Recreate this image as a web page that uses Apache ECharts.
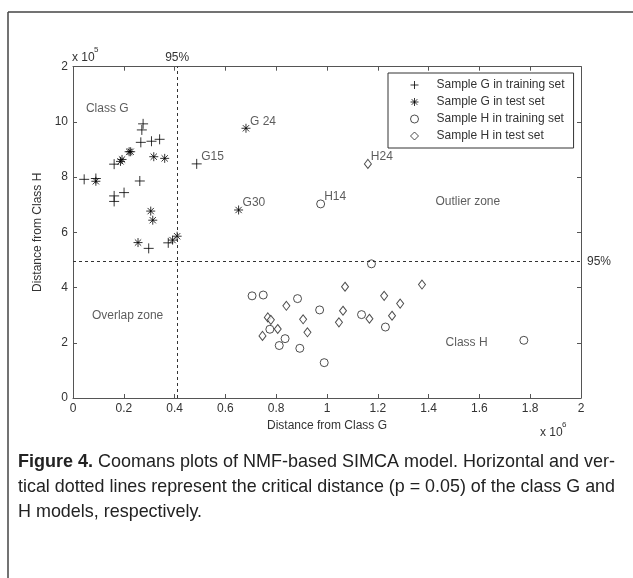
<!DOCTYPE html>
<html>
<head>
<meta charset="utf-8">
<script src="https://cdn.jsdelivr.net/npm/echarts@6/dist/echarts.min.js"></script>
<style>
html,body{margin:0;padding:0;background:#fff;}
#chart{width:633px;height:578px;}
</style>
</head>
<body>
<div id="chart"></div>
<script>
// Values: x in units of 1e6 (Distance from Class G), y in units of 1e5 (Distance from Class H)
// third entry: point label ('' = none)
var gTrain = [
  [0.044,7.92,''],[0.09,7.95,''],[0.162,8.47,''],[0.162,7.32,''],[0.162,7.12,''],
  [0.201,7.44,''],[0.263,7.86,''],[0.267,9.26,''],[0.276,9.93,''],[0.271,9.71,''],
  [0.309,9.30,''],[0.341,9.37,''],[0.298,5.42,''],[0.375,5.62,''],[0.487,8.48,'G15']
];
var gTest = [
  [0.09,7.85,''],[0.187,8.57,''],[0.193,8.64,''],[0.221,8.92,''],[0.227,8.92,''],
  [0.318,8.74,''],[0.361,8.68,''],[0.306,6.77,''],[0.314,6.44,''],[0.256,5.63,''],
  [0.392,5.72,''],[0.41,5.86,''],[0.681,9.77,'G 24'],[0.652,6.81,'G30']
];
var hTrain = [
  [0.705,3.70,''],[0.749,3.73,''],[0.884,3.60,''],[0.775,2.49,''],[0.835,2.15,''],
  [0.812,1.90,''],[0.893,1.80,''],[0.971,3.19,''],[0.989,1.28,''],[1.175,4.86,''],
  [1.136,3.02,''],[1.230,2.57,''],[1.775,2.09,''],[0.975,7.03,'H14']
];
var hTest = [
  [0.84,3.34,''],[0.767,2.92,''],[0.779,2.83,''],[0.806,2.50,''],[0.746,2.25,''],
  [0.906,2.85,''],[0.923,2.38,''],[1.071,4.03,''],[1.063,3.16,''],[1.047,2.74,''],
  [1.167,2.87,''],[1.225,3.70,''],[1.288,3.42,''],[1.256,2.98,''],[1.374,4.11,''],
  [1.161,8.48,'H24']
];
var seriesNames = ['Sample G in training set','Sample G in test set','Sample H in training set','Sample H in test set'];
var criticalG = 0.415;   // vertical 95% line (x)
var criticalH = 4.95;    // horizontal 95% line (y)
var zoneLabels = [
  ['Class G',0.051,10.47],['Overlap zone',0.0745,2.97],['Outlier zone',1.427,7.10],['Class H',1.467,1.99]
];
var xTicks = {min:0,max:2,interval:0.2};
var yTicks = {min:0,max:12,interval:2};
var captionBold = 'Figure 4.';
var captionLines = [
  ' Coomans plots of NMF-based SIMCA model. Horizontal and ver-',
  'tical dotted lines represent the critical distance (p = 0.05) of the class G and',
  'H models, respectively.'
];

var FONT = 'Liberation Sans, Arial, sans-serif';
var TXT = '#333';
var AX = '#555';
var FS = 12;
var plusPath = 'path://M0,-1L0,1M-1,0L1,0';
var starPath = 'path://M0,-1L0,1M-1,0L1,0M-0.7,-0.7L0.7,0.7M-0.7,0.7L0.7,-0.7';

// caption: measure and condense to the reference line width
var CAP_FS = 19, CAP_W = 597, CAP_FONT = '"Liberation Sans", Arial, sans-serif';
var mctx = document.createElement('canvas').getContext('2d');
function tw(s, bold){ mctx.font = (bold ? 'bold ' : '') + CAP_FS + 'px ' + CAP_FONT; return mctx.measureText(s).width; }
var s1 = CAP_W / (tw(captionBold, true) + tw(captionLines[0], false));
var s2 = CAP_W / tw(captionLines[1], false);
var s3 = (s1 + s2) / 2;

function ptLabel(){
  return {show:true, position:'right', distance:0, offset:[-1,-7],
    formatter:function(p){return p.value[2];}, fontFamily:FONT, fontSize:FS, color:TXT};
}
function txt(x, y, s, size){
  return {type:'text', x:x, y:y, style:{text:s, fontFamily:FONT, fontSize:size, fill:TXT}};
}

var chart = echarts.init(document.getElementById('chart'), null, {renderer:'canvas'});
var option = {
  backgroundColor:'#fff',
  animation:false,
  textStyle:{fontFamily:FONT},
  grid:{left:73, right:52, top:66.7, bottom:180, show:false},
  legend:{
    data:[
      {name:seriesNames[0], icon:plusPath, itemStyle:{color:'transparent', borderColor:'#000', borderWidth:1}},
      {name:seriesNames[1], icon:starPath, itemStyle:{color:'transparent', borderColor:'#000', borderWidth:1}},
      {name:seriesNames[2], icon:'circle', itemStyle:{color:'#fff', borderColor:'#222', borderWidth:1}},
      {name:seriesNames[3], icon:'diamond', itemStyle:{color:'#fff', borderColor:'#222', borderWidth:1}}
    ],
    orient:'vertical', left:388, top:73,
    padding:[5,9,5,22], itemWidth:8, itemHeight:8, itemGap:3,
    borderColor:'#333', borderWidth:1, backgroundColor:'#fff',
    textStyle:{fontFamily:FONT, fontSize:FS, color:TXT, lineHeight:14, padding:[0,0,0,13]},
    selectedMode:false
  },
  xAxis:[
    {type:'value', min:xTicks.min, max:xTicks.max, interval:xTicks.interval,
     name:'Distance from Class G', nameLocation:'middle', nameGap:19,
     nameTextStyle:{fontFamily:FONT, fontSize:FS, color:TXT},
     axisLine:{show:true, onZero:false, lineStyle:{color:AX, width:1}},
     axisTick:{show:true, inside:true, length:4, lineStyle:{color:AX}},
     axisLabel:{fontFamily:FONT, fontSize:FS, color:TXT, margin:5,
       formatter:function(v){return String(+v.toFixed(1));}},
     splitLine:{show:false}},
    {type:'value', position:'top', min:xTicks.min, max:xTicks.max, interval:xTicks.interval,
     axisLine:{show:true, onZero:false, lineStyle:{color:AX, width:1}},
     axisTick:{show:true, inside:true, length:4, lineStyle:{color:AX}},
     axisLabel:{show:false}, splitLine:{show:false}}
  ],
  yAxis:[
    {type:'value', min:yTicks.min, max:yTicks.max, interval:yTicks.interval,
     name:'Distance from Class H', nameLocation:'middle', nameGap:19, nameRotate:90,
     nameTextStyle:{fontFamily:FONT, fontSize:FS, color:TXT},
     axisLine:{show:true, onZero:false, lineStyle:{color:AX, width:1}},
     axisTick:{show:true, inside:true, length:4, lineStyle:{color:AX}},
     axisLabel:{fontFamily:FONT, fontSize:FS, color:TXT, margin:5,
       formatter:function(v){return v===12 ? '2' : String(v);}},
     splitLine:{show:false}},
    {type:'value', position:'right', min:yTicks.min, max:yTicks.max, interval:yTicks.interval,
     axisLine:{show:true, onZero:false, lineStyle:{color:AX, width:1}},
     axisTick:{show:true, inside:true, length:4, lineStyle:{color:AX}},
     axisLabel:{show:false}, splitLine:{show:false}}
  ],
  series:[
    {name:seriesNames[0], type:'scatter', data:gTrain, symbol:plusPath, symbolSize:10,
     itemStyle:{color:'transparent', borderColor:'#000', borderWidth:1}, label:ptLabel(),
     markLine:{silent:true, symbol:'none', animation:false,
       lineStyle:{type:[3,3], color:'#333', width:1},
       label:{position:'end', formatter:'95%', fontFamily:FONT, fontSize:FS, color:TXT},
       data:[
         {xAxis:criticalG, label:{distance:3}},
         {yAxis:criticalH, label:{distance:6}}
       ]}},
    {name:seriesNames[1], type:'scatter', data:gTest, symbol:starPath, symbolSize:9,
     itemStyle:{color:'transparent', borderColor:'#000', borderWidth:1}, label:ptLabel()},
    {name:seriesNames[2], type:'scatter', data:hTrain, symbol:'circle', symbolSize:8,
     itemStyle:{color:'#fff', borderColor:'#222', borderWidth:1}, label:ptLabel()},
    {name:seriesNames[3], type:'scatter', data:hTest, symbol:'diamond', symbolSize:[7,9],
     itemStyle:{color:'#fff', borderColor:'#222', borderWidth:1}, label:ptLabel()},
    {name:'zones', type:'scatter', data:zoneLabels.map(function(z){return [z[1],z[2],z[0]];}),
     symbolSize:0, silent:true,
     label:{show:true, position:'right', distance:0, formatter:function(p){return p.value[2];},
       fontFamily:FONT, fontSize:FS, color:TXT}}
  ],
  graphic:[
    {type:'line', shape:{x1:8, y1:12, x2:633, y2:12}, style:{stroke:'#444', lineWidth:1.5}},
    {type:'line', shape:{x1:8, y1:12, x2:8, y2:578}, style:{stroke:'#444', lineWidth:1.5}},
    txt(72, 52, 'x 10', 12),
    txt(94, 46, '5', 8),
    txt(540, 427, 'x 10', 12),
    txt(562, 421, '6', 8),
    {type:'text', x:18, y:452, scaleX:s1, style:{
      text:'{b|' + captionBold + '}' + captionLines[0],
      fontFamily:CAP_FONT, fontSize:CAP_FS, fill:'#222',
      rich:{b:{fontWeight:'bold', fontFamily:CAP_FONT, fontSize:CAP_FS, fill:'#222'}}}},
    {type:'text', x:18, y:477, scaleX:s2, style:{
      text:captionLines[1], fontFamily:CAP_FONT, fontSize:CAP_FS, fill:'#222'}},
    {type:'text', x:18, y:502, scaleX:s3, style:{
      text:captionLines[2], fontFamily:CAP_FONT, fontSize:CAP_FS, fill:'#222'}}
  ]
};
chart.setOption(option);
</script>
</body>
</html>
